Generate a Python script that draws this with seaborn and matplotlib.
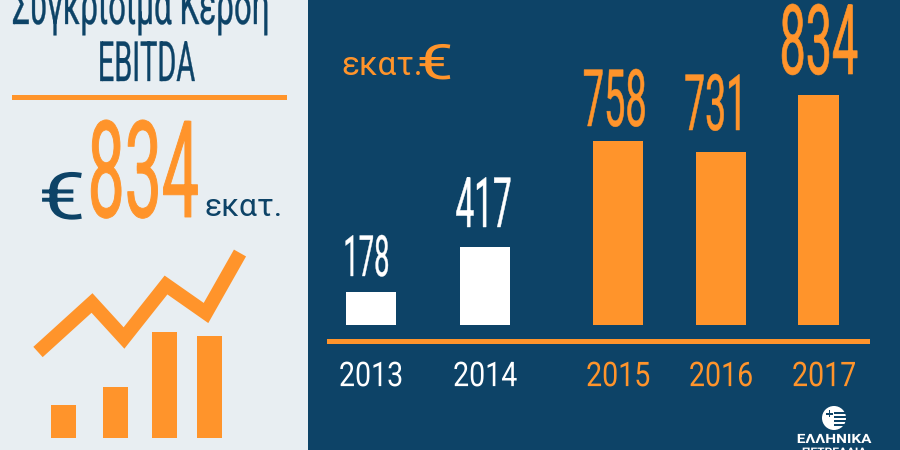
import matplotlib
matplotlib.use("Agg")
import matplotlib.pyplot as plt
import matplotlib.patheffects as pe
from matplotlib.patches import Circle, Rectangle
from matplotlib.transforms import Affine2D
import pandas as pd
import seaborn as sns

NAVY = "#0D4367"
ORANGE = "#FF942B"
LIGHT = "#E8EEF2"

years_early = ["2013", "2014"]
years_late = ["2015", "2016", "2017"]
ebitda_early = [178, 417]
ebitda_late = [758, 731, 834]
# the bars in the picture are not to scale with their labels, so heights are read off separately
heights_early = [33, 78]
heights_late = [184, 173, 230]
label_sizes_early = [41, 50]
label_sizes_late = [57, 56, 70]
label_gaps_early = [16, 20]
label_gaps_late = [15, 22, 21]
label_shift_early = [-5, -1]
label_shift_late = [-3, -2, -6]

icon_x = [63.5, 115.5, 164, 209.5]
icon_heights = [33, 51, 106, 102]
trend_x = [38, 92, 124, 166, 206, 240]
trend_y = [352, 303, 338, 285, 313, 253]


class Condense(pe.AbstractPathEffect):
    """ Squeeze a text horizontally around its own centre, optionally thickening it
    """
    def __init__(self, sx, bold=0):
        super().__init__()
        self.sx = sx
        self.bold = bold

    def draw_path(self, renderer, gc, tpath, affine, rgbFace=None):
        box = tpath.get_extents()
        cx = (box.x0 + box.x1) / 2
        squeeze = Affine2D().translate(-cx, 0).scale(self.sx, 1).translate(cx, 0)
        gc0 = renderer.new_gc()
        gc0.copy_properties(gc)
        if self.bold:
            gc0.set_linewidth(self.bold)
            gc0.set_foreground(rgbFace)
        super().draw_path(renderer, gc0, tpath, squeeze + affine, rgbFace)
        gc0.restore()


def px_axes(fig, left, top, right, bottom):
    return fig.add_axes([left / 900, 1 - bottom / 450, (right - left) / 900, (bottom - top) / 450])


def px_size(height, ratio=0.72):
    # font size in points that gives digits of this height in pixels
    return height / ratio * 72 / 100


def slim(text, sx, bold=0):
    text.set_path_effects([Condense(sx, bold)])


def draw_bars(ax, years, heights, labels, sizes, gaps, shifts, color, width):
    df = pd.DataFrame({"year": years, "height": heights})
    sns.barplot(data=df, x="year", y="height", color=color, saturation=1, width=width,
                linewidth=0, edgecolor="none", ax=ax)
    ax.set_ylim(0, 325)
    ax.set_xlabel("")
    ax.set_ylabel("")
    ax.set_yticks([])
    ax.patch.set_alpha(0)
    sns.despine(ax=ax, left=True, bottom=True)
    ax.tick_params(axis="x", length=0, pad=26, labelsize=px_size(24.5), labelcolor=color)
    for tick in ax.get_xticklabels():
        slim(tick, 0.84)
    for i, p in enumerate(ax.patches):
        t = ax.annotate(str(labels[i]),
                        (p.get_x() + p.get_width() / 2, p.get_height()),
                        xytext=(shifts[i] * 0.72, gaps[i] * 0.72),
                        textcoords="offset points",
                        ha="center", va="baseline",
                        fontsize=px_size(sizes[i]), color=color, annotation_clip=False)
        slim(t, 0.48, sizes[i] / 150)


sns.set_theme(style="white")
plt.rcParams["font.family"] = ["Roboto", "DejaVu Sans"]

fig = plt.figure(figsize=(9, 4.5), dpi=100, facecolor=NAVY)

# page in pixel coordinates for panels, rules and free text
page = fig.add_axes([0, 0, 1, 1])
page.set_xlim(0, 900)
page.set_ylim(450, 0)
page.axis("off")
page.add_patch(Rectangle((0, 0), 308, 450, color=LIGHT, lw=0))
page.add_patch(Rectangle((12, 95), 275, 5, color=ORANGE, lw=0))
page.add_patch(Rectangle((327, 339), 543, 5, color=ORANGE, lw=0))

slim(page.text(141, 24, "Συγκρίσιμα Κέρδη", ha="center", va="baseline", color=NAVY,
               fontsize=px_size(40)), 0.565, 0.25)
slim(page.text(145.5, 81, "EBITDA", ha="center", va="baseline", color=NAVY,
               fontsize=px_size(40)), 0.52, 0.25)
slim(page.text(142, 217, "834", ha="center", va="baseline", color=ORANGE,
               fontsize=px_size(97)), 0.49, 0.65)
slim(page.text(62, 219, "€", ha="center", va="baseline", color=NAVY, fontsize=px_size(47)), 1.3)
page.text(244, 216, "εκατ.", ha="center", va="baseline", color=NAVY, fontsize=23)
page.text(382, 75, "εκατ.", ha="center", va="baseline", color=ORANGE, fontsize=24)
slim(page.text(435, 79, "€", ha="center", va="baseline", color=ORANGE, fontsize=px_size(35)), 1.35)

# trend icon
sns.lineplot(x=trend_x, y=trend_y, color=ORANGE, linewidth=10, ax=page, sort=False,
             legend=False, solid_joinstyle="miter", solid_capstyle="butt")
page.set_xlim(0, 900)
page.set_ylim(450, 0)
page.axis("off")

icon = px_axes(fig, 0, 300, 308, 438)
icon.bar(icon_x, icon_heights, width=25, color=ORANGE, linewidth=0)
icon.set_xlim(0, 308)
icon.set_ylim(0, 138)
icon.axis("off")

# main chart, two groups with their own spacing
ax_early = px_axes(fig, 314, 0, 542, 325)
draw_bars(ax_early, years_early, heights_early, ebitda_early, label_sizes_early,
          label_gaps_early, label_shift_early, "white", 0.447)
ax_late = px_axes(fig, 566.5, 0, 875.5, 325)
draw_bars(ax_late, years_late, heights_late, ebitda_late, label_sizes_late,
          label_gaps_late, label_shift_late, ORANGE, 0.495)
# the 2017 bar is drawn narrower in the picture
last = ax_late.patches[2]
last.set_x((798 - 566.5) / 103 - 0.5)
last.set_width(41 / 103)

# logo
page.add_patch(Circle((834, 418), 12, color="white", lw=0))
for y in [412, 416, 420, 424]:
    page.add_patch(Rectangle((834, y), 13, 1.6, color=NAVY, lw=0))
page.add_patch(Rectangle((826, 413), 7, 1.6, color=NAVY, lw=0))
page.add_patch(Rectangle((828.5, 410), 1.6, 7, color=NAVY, lw=0))
slim(page.text(834, 443, "ΕΛΛΗΝΙΚΑ", ha="center", va="baseline", color="white",
               fontsize=9.2, fontweight="bold"), 1.2)
slim(page.text(834, 455, "ΠΕΤΡΕΛΑΙΑ", ha="center", va="baseline", color="white",
               fontsize=7.5, fontweight="bold"), 1.15)

fig.savefig("out.png", dpi=100, facecolor=fig.get_facecolor())
